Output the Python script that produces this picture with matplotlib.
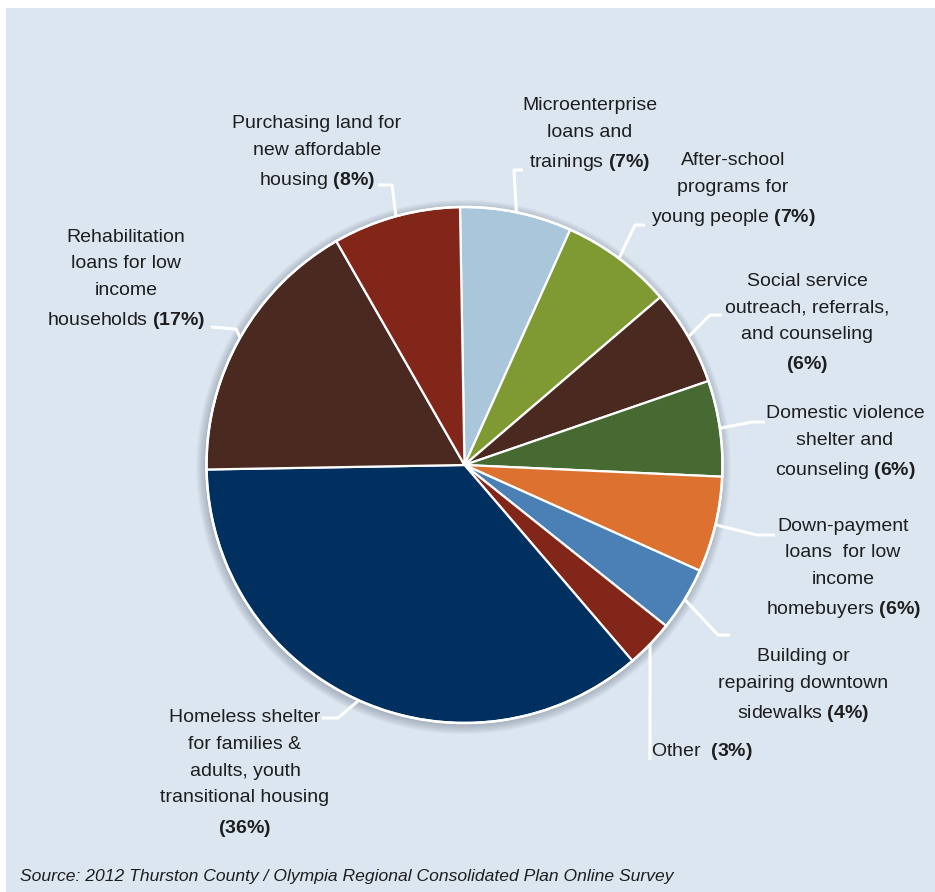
import numpy as np
import matplotlib
matplotlib.use("Agg")
import matplotlib.pyplot as plt
from matplotlib.patches import Rectangle, Circle

# ── data ────────────────────────────────────────────────────
labels = [
    "Microenterprise\nloans and\ntrainings {p}",
    "After-school\nprograms for\nyoung people {p}",
    "Social service\noutreach, referrals,\nand counseling\n{p}",
    "Domestic violence\nshelter and\ncounseling {p}",
    "Down-payment\nloans  for low\nincome\nhomebuyers {p}",
    "Building or\nrepairing downtown\nsidewalks {p}",
    "Other  {p}",
    "Homeless shelter\nfor families &\nadults, youth\ntransitional housing\n{p}",
    "Rehabilitation\nloans for low\nincome\nhouseholds {p}",
    "Purchasing land for\nnew affordable\nhousing {p}",
]
values = [7, 7, 6, 6, 6, 4, 3, 36, 17, 8]
colors = ["#a9c6da", "#7f9a32", "#4a2a20", "#466a31", "#dd7230",
          "#4a80b6", "#82261a", "#00305f", "#4a2a20", "#82261a"]
source = "Source: 2012 Thurston County / Olympia Regional Consolidated Plan Online Survey"

# ── layout (pixel coords, y from top) ───────────────────────
W, H = 935, 892
cx, cy, R = 464.5, 465, 258
# text anchor (x, y, ha), leader elbow and leader end
text_pos = [(590, 135, "center"), (733, 190, "center"), (807, 324, "center"),
            (845, 443, "center"), (843, 569, "center"), (803, 686, "center"),
            (651, 752, "left"), (245, 774, "center"), (126, 280, "center"),
            (317, 153, "center")]
elbows = [(514, 170), (635, 225), (710, 315), (752, 422), (757, 535),
          (718, 635), (650, 760), (338, 718), (236, 329), (392, 185)]
ends = [(523, 170), (645, 225), (722, 315), (765, 422), (775, 535),
        (730, 635), (650, 760), (322, 718), (211, 327), (378, 185)]

plt.rcParams["font.family"] = ["Liberation Sans", "DejaVu Sans"]
plt.rcParams["mathtext.fontset"] = "custom"
plt.rcParams["mathtext.rm"] = "Liberation Sans"
plt.rcParams["mathtext.bf"] = "Liberation Sans:bold"
text_color = "#1e1e1e"


def py(y):
    return H - y


fig = plt.figure(figsize=(W / 100, H / 100), dpi=100)
fig.patch.set_facecolor("white")
ax = fig.add_axes([0, 0, 1, 1])

ax.add_patch(Rectangle((6, 0), W - 6, H - 8, facecolor="#dce6f0",
                       edgecolor="none", zorder=0))

# soft shadow round the pie
for i in range(10):
    ax.add_patch(Circle((cx - 1, py(cy) - 2), R + 1 + i * 0.9,
                        facecolor="#6f7d8c", edgecolor="none",
                        alpha=0.05, zorder=1))

wedges, _ = ax.pie(values, colors=colors, startangle=91, counterclock=False,
                   center=(cx, py(cy)), radius=R, frame=True,
                   wedgeprops=dict(edgecolor="white", linewidth=1.6, zorder=2))
ax.add_patch(Circle((cx, py(cy)), R, facecolor="none", edgecolor="white",
                    linewidth=1.8, zorder=3))

for w, lab, v, (tx, ty, ha), el, en in zip(wedges, labels, values,
                                          text_pos, elbows, ends):
    mid = np.deg2rad((w.theta1 + w.theta2) / 2)
    px0 = cx + R * np.cos(mid)
    py0 = py(cy) + R * np.sin(mid)
    ax.plot([px0, el[0], en[0]], [py0, py(el[1]), py(en[1])],
            color="white", lw=2.2, solid_capstyle="butt", zorder=3)
    txt = lab.format(p=r"$\mathbf{(" + str(v) + r"\%)}$")
    ax.text(tx, py(ty), txt, ha=ha, va="center", multialignment="center",
            fontsize=14, linespacing=1.75, color=text_color, zorder=4)

ax.text(20, py(876), source, ha="left", va="center", fontsize=12.6,
        style="italic", color=text_color)

ax.set_xlim(0, W)
ax.set_ylim(0, H)
ax.set_aspect("equal")
ax.axis("off")

fig.savefig("out.png", dpi=100, facecolor=fig.get_facecolor())
